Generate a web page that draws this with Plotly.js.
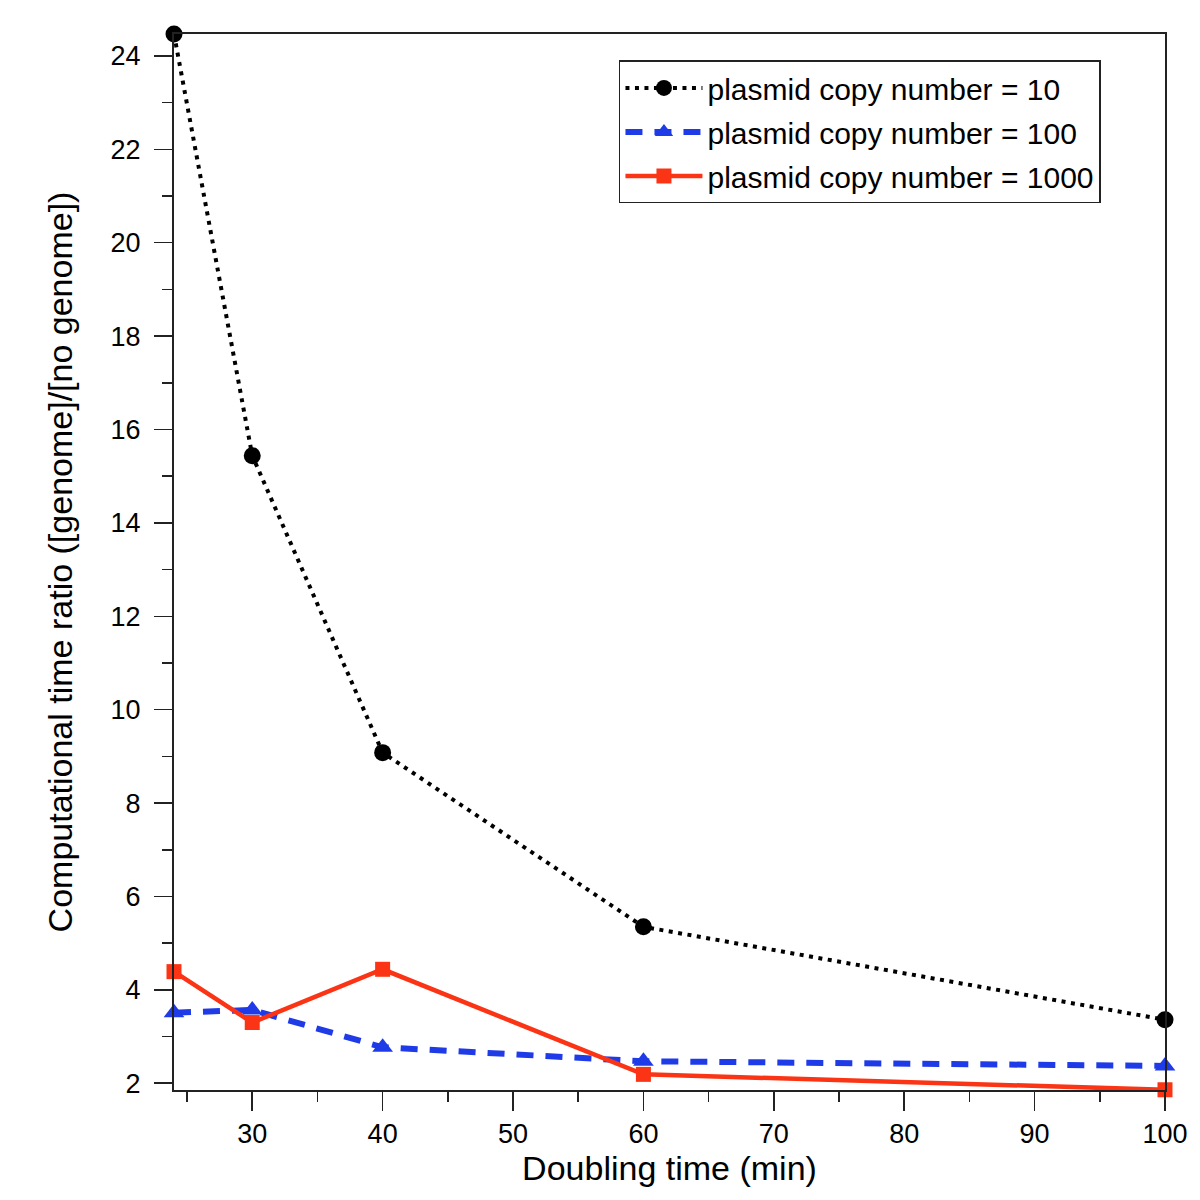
<!DOCTYPE html>
<html>
<head>
<meta charset="utf-8">
<script src="https://cdn.plot.ly/plotly-3.0.1.min.js"></script>
<style>html,body{margin:0;padding:0;background:#fff;}#chart{width:1200px;height:1200px;}</style>
</head>
<body>
<div id="chart"></div>
<script>
const doublingTimes = [24, 30, 40, 60, 100];
const copy10 = [24.47, 15.44, 9.08, 5.35, 3.36];
const copy100 = [3.51, 3.57, 2.77, 2.47, 2.37];
const copy1000 = [4.39, 3.30, 4.44, 2.19, 1.86];
const seriesNames = ['plasmid copy number = 10', 'plasmid copy number = 100', 'plasmid copy number = 1000'];

const font = 'Liberation Sans, Arial, Helvetica, sans-serif';

const traces = [
  {x: doublingTimes, y: copy10, name: seriesNames[0], legendgroup: 'a', mode: 'lines+markers',
   line: {color: '#000000', width: 4, dash: '4px,5.5px'},
   marker: {symbol: 'circle', size: 17, color: '#000000'}, cliponaxis: false},
  {x: doublingTimes, y: copy100, name: seriesNames[1], legendgroup: 'b', mode: 'lines+markers',
   line: {color: '#1f3be8', width: 6, dash: '17px,12px'},
   marker: {symbol: 'triangle-up', size: 18, color: '#1f3be8'}, cliponaxis: false},
  {x: doublingTimes, y: copy1000, name: seriesNames[2], legendgroup: 'c', mode: 'lines+markers',
   line: {color: '#fa3414', width: 4.5},
   marker: {symbol: 'square', size: 15, color: '#fa3414'}, cliponaxis: false}
];

const layout = {
  width: 1200, height: 1200,
  margin: {l: 174, r: 35, t: 34, b: 110},
  paper_bgcolor: '#ffffff', plot_bgcolor: '#ffffff',
  font: {family: font, size: 27, color: '#000'},
  showlegend: true,
  legend: {x: 0.449, y: 0.975, xanchor: 'left', yanchor: 'top',
           bordercolor: '#222', borderwidth: 1.5, bgcolor: '#fff',
           font: {family: font, size: 30, color: '#000'},
           itemwidth: 77, traceorder: 'grouped', tracegroupgap: 2},
  xaxis: {
    range: [24, 100], tick0: 0, dtick: 10,
    showgrid: false, zeroline: false,
    showline: true, linecolor: '#222', linewidth: 2, mirror: true,
    ticks: 'outside', ticklen: 19, tickwidth: 1.5, tickcolor: '#222', ticklabelstandoff: 0,
    minor: {dtick: 5, tick0: 0, ticks: 'outside', ticklen: 10, tickwidth: 1.5, tickcolor: '#222', showgrid: false},
    tickfont: {family: font, size: 27, color: '#000'},
    title: {text: 'Doubling time (min)', font: {family: font, size: 34, color: '#000'}, standoff: 0}
  },
  yaxis: {
    range: [1.855, 24.47], tick0: 0, dtick: 2,
    showgrid: false, zeroline: false,
    showline: true, linecolor: '#222', linewidth: 2, mirror: true,
    ticks: 'outside', ticklen: 18, tickwidth: 1.5, tickcolor: '#222', ticklabelstandoff: 8,
    minor: {dtick: 1, tick0: 0, ticks: 'outside', ticklen: 10, tickwidth: 1.5, tickcolor: '#222', showgrid: false},
    tickfont: {family: font, size: 27, color: '#000'},
    title: {text: 'Computational time ratio ([genome]/[no genome])', font: {family: font, size: 34, color: '#000'}, standoff: 28}
  }
};

Plotly.newPlot('chart', traces, layout, {displayModeBar: false, staticPlot: true});
</script>
</body>
</html>
